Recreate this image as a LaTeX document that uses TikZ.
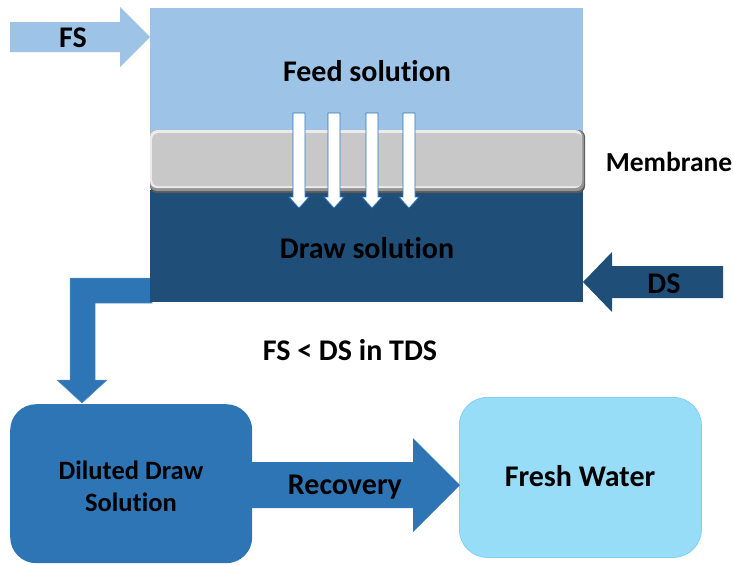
\documentclass[tikz,border=0pt]{standalone}
\usepackage{fontspec}
\setmainfont{Carlito}[Ligatures=NoCommon]
\usetikzlibrary{positioning}
\definecolor{feedblue}{HTML}{9DC3E6}
\definecolor{drawblue}{HTML}{1F4E79}
\definecolor{midblue}{HTML}{2E75B6}
\definecolor{freshblue}{HTML}{97DDF7}
\definecolor{freshedge}{HTML}{7FD0F2}
\definecolor{memgray}{HTML}{C8C8C8}
\tikzset{
  lbl/.style={font=\bfseries\fontsize{30}{33}\selectfont, text=black, inner sep=0pt},
  lblmem/.style={font=\bfseries\fontsize{27.5}{30}\selectfont, text=black, inner sep=0pt},
  lblsm/.style={font=\bfseries\fontsize{26.5}{32}\selectfont, text=black, inner sep=0pt, align=center},
  flowarrow/.style={fill=midblue, draw=midblue!80!white, line width=0.5pt},
  permeate/.style={fill=white, draw=midblue, line width=0.7pt},
}
\begin{document}
\begin{tikzpicture}[x=1pt,y=-1pt]
\useasboundingbox (0,0) rectangle (733,565);

% outlet of the draw solution, bent down to the diluted tank
\draw[flowarrow] (152,278) -- (70,278) -- (70,380) -- (57,380) -- (82,403)
  -- (107,380) -- (95,380) -- (95,303) -- (152,303) -- cycle;

% feed and draw channels
\node[fill=feedblue, minimum width=433pt, minimum height=126pt, inner sep=0pt, anchor=north west] (feed) at (150,8) {};
\node[fill=drawblue, minimum width=433pt, minimum height=112pt, inner sep=0pt, anchor=north west] (draw) at (150,190) {};

% membrane with a bevelled edge: dark lower rim, light upper rim
\fill[black!65, rounded corners=7pt] (150,130) rectangle (585,193);
\fill[black!42, rounded corners=7pt] (150,130) rectangle (584,191);
\fill[black!8, rounded corners=7pt] (150,130) rectangle (582,188);
\node[fill=memgray, rounded corners=6pt, minimum width=430pt, minimum height=53pt, inner sep=0pt, anchor=north west] (mem) at (152,133) {};

% water crossing the membrane
\foreach \c in {299,334,372,409}{
  \draw[permeate] (\c-6,113) -- (\c+6,113) -- (\c+6,197) -- (\c+10,197)
    -- (\c,208) -- (\c-10,197) -- (\c-6,197) -- cycle;
}

% inlet arrows
\draw[fill=feedblue, draw=none] (10,22) -- (120,22) -- (120,7) -- (150,37)
  -- (120,67) -- (120,52) -- (10,52) -- cycle;
\draw[fill=drawblue, draw=none] (723,266) -- (612,266) -- (612,252) -- (583,282)
  -- (612,312) -- (612,298) -- (723,298) -- cycle;

% lower tanks
\node[fill=midblue, rounded corners=26pt, minimum width=242pt, minimum height=159pt, inner sep=0pt, anchor=north west] (dil) at (10,404) {};
\node[fill=freshblue, draw=freshedge, line width=0.8pt, rounded corners=28pt, minimum width=242pt, minimum height=160pt, inner sep=0pt, anchor=north west] (fresh) at (459,397) {};

% recovery step
\draw[flowarrow, draw=none] (252,462) -- (413,462) -- (413,438) -- (460,485)
  -- (413,532) -- (413,508) -- (252,508) -- cycle;

% labels
\node[lbl] (tfeed) at (367,71) {Feed solution};
\node[lbl] (tdraw) at (367,248) {Draw solution};
\node[lblmem] (tmem) at (669,162) {Membrane};
\node[lbl] (tfs) at (73,38) {FS};
\node[lbl] (tds) at (664,284) {DS};
\node[lbl] (tcmp) at (350,350) {FS < DS in TDS};
\node[lblsm] (tdil) at (131,486) {Diluted Draw\\Solution};
\node[lbl] (trec) at (345,487) {Recovery};
\node[lbl] (tfresh) at (580,476) {Fresh Water};
\end{tikzpicture}
\end{document}
